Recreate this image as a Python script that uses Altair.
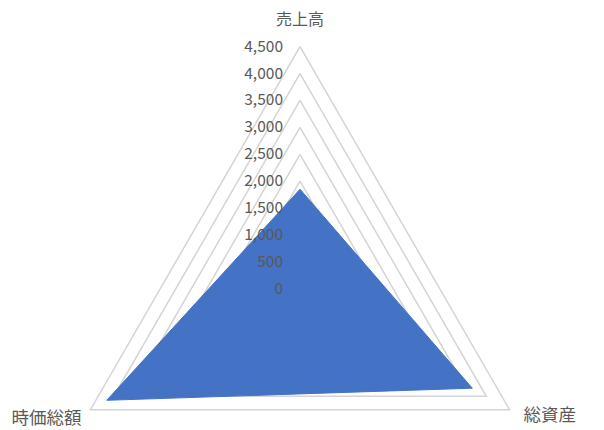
import altair as alt
import pandas as pd

categories = ["売上高", "総資産", "時価総額"]
values = [1850, 3700, 4150]
ticks = [0, 500, 1000, 1500, 2000, 2500, 3000, 3500, 4000, 4500]
tick_labels = ["0", "500", "1,000", "1,500", "2,000", "2,500", "3,000", "3,500", "4,000", "4,500"]
max_r = 4500

n = len(categories)

# polygon data (closed path)
poly = pd.DataFrame({
    "idx": list(range(n)) + [n],
    "ang": [i for i in range(n)] + [0],
    "r": values + [values[0]],
})

# grid data
grid_rows = []
for t in ticks[1:]:
    for j in range(n + 1):
        grid_rows.append({"level": t, "idx": j, "ang": j % n, "r": t})
grid = pd.DataFrame(grid_rows)

tick_df = pd.DataFrame({"r": ticks, "label": tick_labels, "ang": [0] * len(ticks)})

cat_df = pd.DataFrame({"cat": categories, "ang": list(range(n)), "r": [max_r] * n})

k = 242.0 / 4500.0
W, H = 580, 410
cx, cy = 292.0, 280.7
xs = alt.Scale(domain=[-cx / k, (W - cx) / k], nice=False, zero=False)
ys = alt.Scale(domain=[-(H - cy) / k, cy / k], nice=False, zero=False)

def xy(ch):
    return ch.transform_calculate(
        x=f"datum.r * sin(datum.ang * 2 * PI / {n})",
        y=f"datum.r * cos(datum.ang * 2 * PI / {n})",
    )

X = alt.X("x:Q", scale=xs, axis=None)
Y = alt.Y("y:Q", scale=ys, axis=None)

grid_layer = xy(alt.Chart(grid)).mark_line(color="#d4d4d4", strokeWidth=1.5).encode(
    x=X, y=Y, detail="level:N", order="idx:Q"
)

poly_layer = xy(alt.Chart(poly)).mark_line(
    fill="#4472C4", stroke="#4472C4", strokeWidth=1, fillOpacity=1
).encode(x=X, y=Y, order="idx:Q")

tick_layer = xy(alt.Chart(tick_df)).mark_text(
    align="right", baseline="middle", dx=-17, fontSize=15.5,
    font="Noto Sans CJK JP", color="#595959"
).encode(x=X, y=Y, text="label:N")

font = "Noto Sans CJK JP"
top_lab = xy(alt.Chart(cat_df).transform_filter("datum.ang == 0")).mark_text(
    align="center", baseline="middle", dy=-27, fontSize=16, font=font, color="#595959"
).encode(x=X, y=Y, text="cat:N")
right_lab = xy(alt.Chart(cat_df).transform_filter("datum.ang == 1")).mark_text(
    align="left", baseline="middle", dx=14, dy=6, fontSize=17.5, font=font, color="#595959"
).encode(x=X, y=Y, text="cat:N")
left_lab = xy(alt.Chart(cat_df).transform_filter("datum.ang == 2")).mark_text(
    align="right", baseline="middle", dx=-9, dy=9, fontSize=17.5, font=font, color="#595959"
).encode(x=X, y=Y, text="cat:N")

chart = alt.layer(grid_layer, poly_layer, tick_layer, top_lab, right_lab, left_lab).properties(
    width=W, height=H, padding=0, background="white"
).configure_view(stroke=None)

chart.save("out.html", embed_options={"renderer": "svg", "actions": False})
